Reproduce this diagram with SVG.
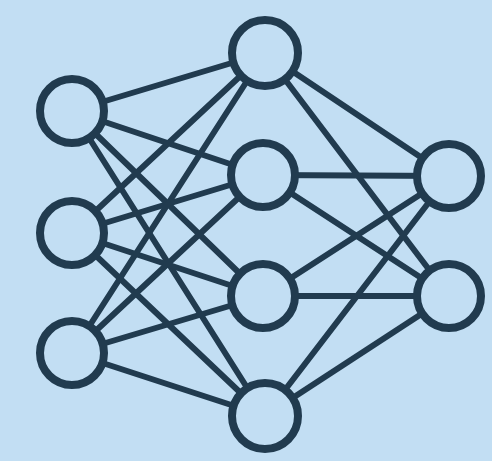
<svg xmlns="http://www.w3.org/2000/svg" width="492" height="461" viewBox="0 0 492 461">
<style>
.edge{stroke:#213b4f;stroke-width:6;fill:none;stroke-linecap:round}
.node{fill:#c2def3;stroke:#213b4f;stroke-width:8}
</style>
<rect width="492" height="461" fill="#c2def3"/>
<g id="connectors">
<line class="edge" x1="72" y1="111" x2="265" y2="53"/>
<line class="edge" x1="72" y1="111" x2="263" y2="175"/>
<line class="edge" x1="72" y1="111" x2="263" y2="296"/>
<line class="edge" x1="72" y1="111" x2="265" y2="416"/>
<line class="edge" x1="72" y1="233" x2="265" y2="53"/>
<line class="edge" x1="72" y1="233" x2="263" y2="175"/>
<line class="edge" x1="72" y1="233" x2="263" y2="296"/>
<line class="edge" x1="72" y1="233" x2="265" y2="416"/>
<line class="edge" x1="72" y1="353" x2="265" y2="53"/>
<line class="edge" x1="72" y1="353" x2="263" y2="175"/>
<line class="edge" x1="72" y1="353" x2="263" y2="296"/>
<line class="edge" x1="72" y1="353" x2="265" y2="416"/>
<line class="edge" x1="265" y1="53" x2="449" y2="176"/>
<line class="edge" x1="265" y1="53" x2="449" y2="296"/>
<line class="edge" x1="263" y1="175" x2="449" y2="176"/>
<line class="edge" x1="263" y1="175" x2="449" y2="296"/>
<line class="edge" x1="263" y1="296" x2="449" y2="176"/>
<line class="edge" x1="263" y1="296" x2="449" y2="296"/>
<line class="edge" x1="265" y1="416" x2="449" y2="176"/>
<line class="edge" x1="265" y1="416" x2="449" y2="296"/>
</g>
<g id="in1"><circle class="node" cx="72" cy="111" r="32"/></g>
<g id="in2"><circle class="node" cx="72" cy="233" r="32"/></g>
<g id="in3"><circle class="node" cx="72" cy="353" r="32"/></g>
<g id="h1"><circle class="node" cx="265" cy="53" r="33"/></g>
<g id="h2"><circle class="node" cx="263" cy="175" r="32"/></g>
<g id="h3"><circle class="node" cx="263" cy="296" r="32"/></g>
<g id="h4"><circle class="node" cx="265" cy="416" r="33"/></g>
<g id="out1"><circle class="node" cx="449" cy="176" r="32"/></g>
<g id="out2"><circle class="node" cx="449" cy="296" r="32"/></g>
</svg>
